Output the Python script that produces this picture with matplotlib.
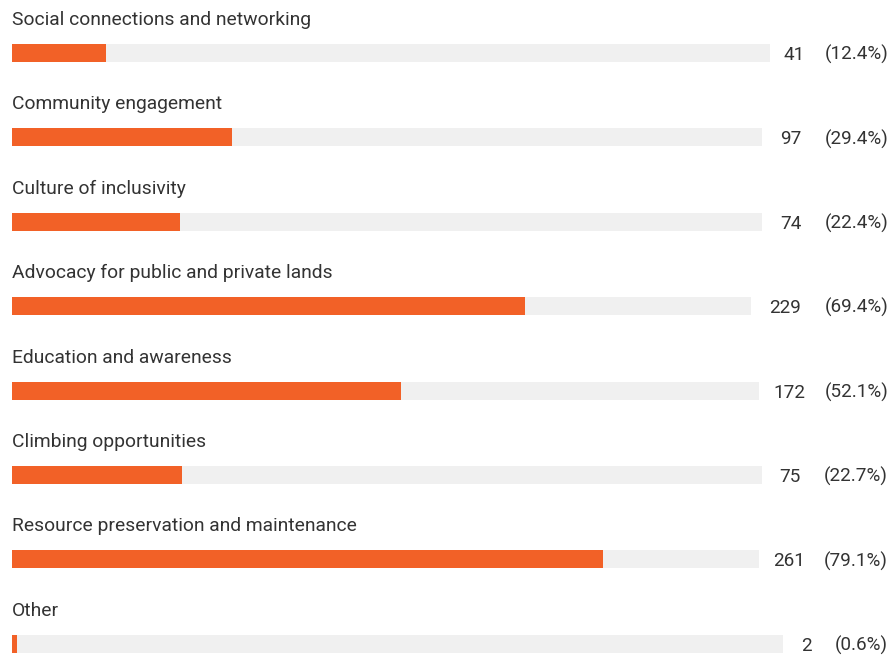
import matplotlib
matplotlib.use("Agg")
import matplotlib.pyplot as plt

categories = [
    "Social connections and networking",
    "Community engagement",
    "Culture of inclusivity",
    "Advocacy for public and private lands",
    "Education and awareness",
    "Climbing opportunities",
    "Resource preservation and maintenance",
    "Other",
]
counts = [41, 97, 74, 229, 172, 75, 261, 2]
percents = [12.4, 29.4, 22.4, 69.4, 52.1, 22.7, 79.1, 0.6]

ORANGE = "#f26127"
TRACK = "#f0f0f0"
TEXT = "#333333"

plt.rcParams["font.family"] = ["Roboto", "DejaVu Sans"]

W, H = 894, 656
fig = plt.figure(figsize=(W / 100, H / 100), dpi=100)
ax = fig.add_axes([0, 0, 1, 1])
ax.set_xlim(0, W)
ax.set_ylim(H, 0)
ax.axis("off")

fs = 13.9
fs_val = 13.6
left = 12
row_step = 84.4
bar_top0 = 44
bar_h = 18
right = 888
gap_val = 23
gap_bar = 18

renderer = fig.canvas.get_renderer()


def text_width(t):
    # Roboto digits are tabular; a "1" set proportionally is about 4px narrower
    return t.get_window_extent(renderer).width - 4 * t.get_text().count("1")


for i, (cat, n, p) in enumerate(zip(categories, counts, percents)):
    top = bar_top0 + i * row_step
    mid = top + bar_h / 2
    ax.text(left, top - 19, cat, fontsize=fs, color=TEXT, va="baseline", ha="left")

    # value labels on the right, track stops short of them
    base = mid + 7
    tp = ax.text(right, base, f"({p}%)", fontsize=fs_val, color=TEXT, va="baseline", ha="right")
    wp = text_width(tp)
    tc = ax.text(right - wp - gap_val, base, str(n), fontsize=fs_val, color=TEXT,
                 va="baseline", ha="right")
    wc = text_width(tc)
    track_w = right - wp - gap_val - wc - gap_bar - left

    ax.barh(mid, track_w, left=left, height=bar_h, color=TRACK)
    ax.barh(mid, p / 100 * track_w, left=left, height=bar_h, color=ORANGE)

fig.savefig("out.png", dpi=100, facecolor="white")
